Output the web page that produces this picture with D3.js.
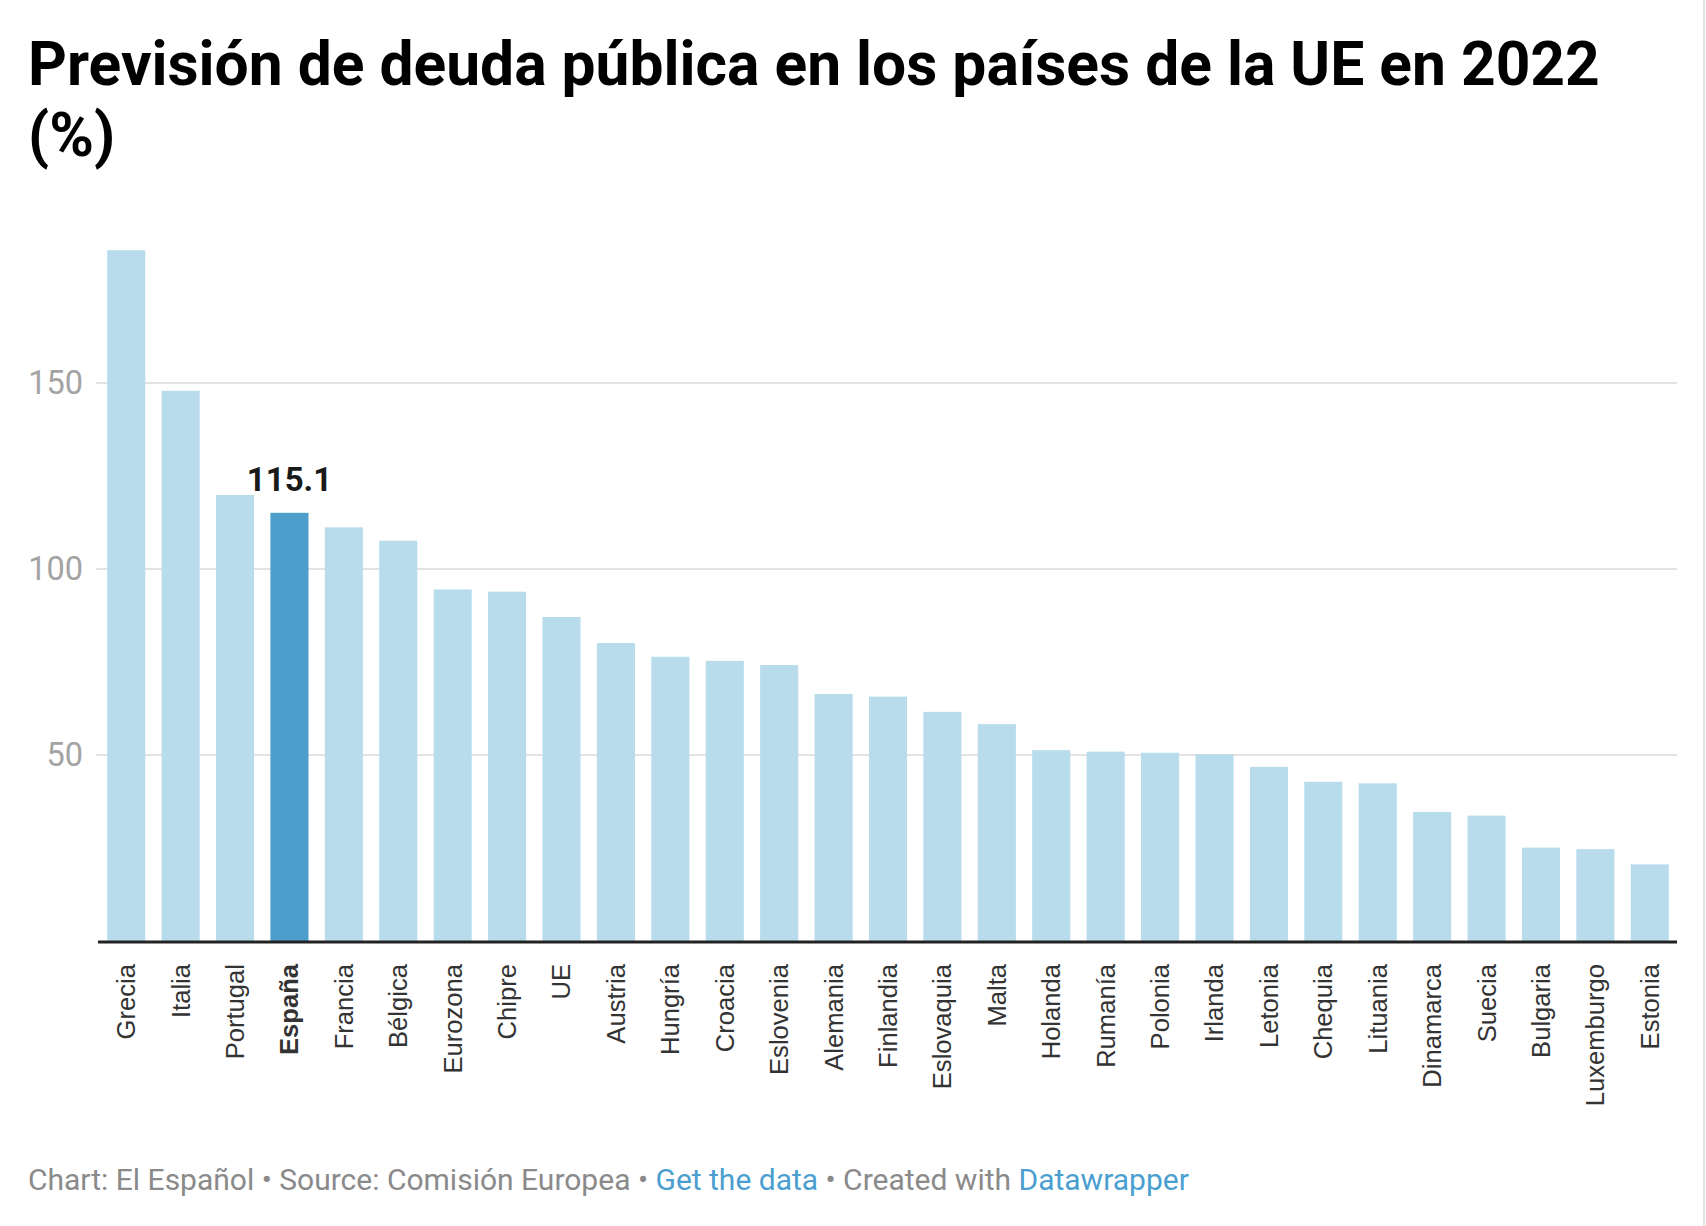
<!DOCTYPE html>
<html>
<head>
<meta charset="utf-8">
<script src="https://cdn.jsdelivr.net/npm/d3@7"></script>
<style>
	body { margin: 0; background: #fff; }
	svg { display: block; }
</style>
</head>
<body>
<div id="chart"></div>
<script>
var width = 1706,
	height = 1226;

var countries = ['Grecia', 'Italia', 'Portugal', 'España', 'Francia', 'Bélgica', 'Eurozona', 'Chipre', 'UE',
	'Austria', 'Hungría', 'Croacia', 'Eslovenia', 'Alemania', 'Finlandia', 'Eslovaquia', 'Malta', 'Holanda',
	'Rumanía', 'Polonia', 'Irlanda', 'Letonia', 'Chequia', 'Lituania', 'Dinamarca', 'Suecia', 'Bulgaria',
	'Luxemburgo', 'Estonia'];

var debt = [185.7, 147.9, 119.9, 115.1, 111.2, 107.6, 94.5, 93.9, 87.1,
	80.1, 76.4, 75.3, 74.2, 66.4, 65.7, 61.6, 58.3, 51.3,
	50.9, 50.6, 50.2, 46.8, 42.8, 42.4, 34.7, 33.7, 25.1,
	24.7, 20.6];

var yTicks = [50, 100, 150];

var HIGHLIGHT = 'España';

var data = countries.map(function(c, i) { return {name: c, value: debt[i]}; });

var svg = d3.select('#chart').append('svg')
	.attr('width', width)
	.attr('height', height);

// thin border on the right edge of the screenshot
svg.append('line')
	.attr('x1', 1704).attr('x2', 1704)
	.attr('y1', 0).attr('y2', height)
	.attr('stroke', '#e2e2e2')
	.attr('stroke-width', 2);

// title
var title = svg.append('text')
	.attr('font-family', 'Roboto, sans-serif')
	.attr('font-weight', 700)
	.attr('font-size', 60.5)
	.attr('fill', '#000');
title.append('tspan').attr('x', 28).attr('y', 85)
	.text('Previsión de deuda pública en los países de la UE en 2022');
title.append('tspan').attr('x', 28).attr('y', 156)
	.text('(%)');

var x = d3.scaleBand()
	.domain(countries)
	.range([99, 1677])
	.paddingInner(0.3)
	.paddingOuter(0.15);

var y = d3.scaleLinear()
	.domain([0, 150])
	.range([941, 383]);

// gridlines + tick labels
var grid = svg.append('g').classed('grid', true);
grid.selectAll('line')
	.data(yTicks)
	.enter()
	.append('line')
	.attr('x1', 96)
	.attr('x2', 1677)
	.attr('y1', d => y(d))
	.attr('y2', d => y(d))
	.attr('stroke', '#e3e3e3')
	.attr('stroke-width', 2);

grid.selectAll('text')
	.data(yTicks)
	.enter()
	.append('text')
	.attr('x', 83)
	.attr('y', d => y(d))
	.attr('dy', '0.35em')
	.attr('text-anchor', 'end')
	.attr('font-family', 'Roboto, sans-serif')
	.attr('font-size', 32.5)
	.attr('fill', '#a3a3a3')
	.text(d => d);

// bars
svg.append('g').classed('bars', true)
	.selectAll('rect')
	.data(data)
	.enter()
	.append('rect')
	.attr('x', d => x(d.name))
	.attr('width', x.bandwidth())
	.attr('y', d => y(d.value))
	.attr('height', d => y(0) - y(d.value))
	.attr('fill', d => d.name === HIGHLIGHT ? '#4c9fca' : '#b8dcec');

// baseline
svg.append('line')
	.attr('x1', 98)
	.attr('x2', 1677)
	.attr('y1', y(0) + 1)
	.attr('y2', y(0) + 1)
	.attr('stroke', '#222')
	.attr('stroke-width', 3);

// value label for highlighted bar
var hl = data.filter(d => d.name === HIGHLIGHT)[0];
svg.append('text')
	.attr('x', x(hl.name) + x.bandwidth() / 2)
	.attr('y', y(hl.value) - 22)
	.attr('text-anchor', 'middle')
	.attr('font-family', 'Roboto, sans-serif')
	.attr('font-weight', 700)
	.attr('font-size', 33)
	.attr('fill', '#1a1a1a')
	.text(d3.format('.1f')(hl.value));

// category labels, rotated
svg.append('g').classed('labels', true)
	.selectAll('text')
	.data(countries)
	.enter()
	.append('text')
	.attr('transform', d => 'translate(' + (x(d) + x.bandwidth() / 2) + ',964) rotate(-90)')
	.attr('dy', '0.35em')
	.attr('text-anchor', 'end')
	.attr('font-family', '"Liberation Sans", Arial, sans-serif')
	.attr('font-size', 25.6)
	.attr('font-weight', d => d === HIGHLIGHT ? 700 : 400)
	.attr('fill', '#333')
	.text(d => d);

// footer
var footer = svg.append('text')
	.attr('x', 28)
	.attr('y', 1190)
	.attr('font-family', 'Roboto, sans-serif')
	.attr('font-size', 30)
	.attr('fill', '#8a8a8a');
footer.append('tspan').text('Chart: El Español • Source: Comisión Europea • ');
footer.append('tspan').attr('fill', '#4a9fd0').text('Get the data');
footer.append('tspan').text(' • Created with ');
footer.append('tspan').attr('fill', '#4a9fd0').text('Datawrapper');
</script>
</body>
</html>
